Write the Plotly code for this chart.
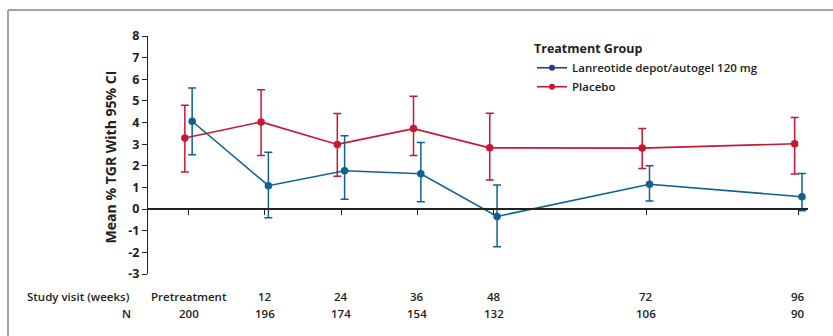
import plotly.graph_objects as go

# Visits (weeks from start; pretreatment plotted at week 0)
weeks = [0, 12, 24, 36, 48, 72, 96]
visit_labels = ["Pretreatment", "12", "24", "36", "48", "72", "96"]
n_patients = [200, 196, 174, 154, 132, 106, 90]

# Lanreotide depot/autogel 120 mg: mean % TGR and 95% CI bounds
lan_mean = [4.06, 1.08, 1.77, 1.63, -0.34, 1.15, 0.57]
lan_upper = [5.60, 2.63, 3.39, 3.08, 1.11, 2.00, 1.65]
lan_lower = [2.51, -0.40, 0.46, 0.34, -1.74, 0.37, -0.08]

# Placebo: mean % TGR and 95% CI bounds
pla_mean = [3.29, 4.03, 2.99, 3.72, 2.83, 2.82, 3.02]
pla_upper = [4.80, 5.52, 4.42, 5.22, 4.43, 3.72, 4.23]
pla_lower = [1.72, 2.48, 1.52, 2.48, 1.34, 1.88, 1.62]

y_ticks = list(range(-3, 9))
y_tick_labels = [str(v) for v in y_ticks]

RED = "#c8172f"
BLUE = "#11618f"
NAVY = "#2b3590"
TEXT = "#222222"
FONT = "Open Sans"

W, H = 833, 336
ML, MR, MT, MB = 148, 25, 36, 62
X_RANGE = [-6.4, 97.5]
Y_RANGE = [-3, 8]
PW, PH = W - ML - MR, H - MT - MB


def px_x(px):
    return (px - ML) / PW


def px_y(py):
    return (H - MB - py) / PH


def series(name, color, mean, upper, lower, dodge):
    return go.Scatter(
        x=[w + dodge for w in weeks],
        y=mean,
        mode="lines+markers",
        name=name,
        showlegend=False,
        line=dict(color=color, width=1.6),
        marker=dict(color=color, size=7.5),
        error_y=dict(
            type="data",
            symmetric=False,
            array=[u - m for u, m in zip(upper, mean)],
            arrayminus=[m - l for m, l in zip(mean, lower)],
            color=color,
            thickness=1.5,
            width=4,
        ),
    )


fig = go.Figure()
fig.add_trace(series("Placebo", RED, pla_mean, pla_upper, pla_lower, -0.6))
fig.add_trace(series("Lanreotide depot/autogel 120 mg", BLUE, lan_mean, lan_upper, lan_lower, 0.55))

# Legend entries
for name, color in [("Lanreotide depot/autogel 120 mg", NAVY), ("Placebo", RED)]:
    fig.add_trace(go.Scatter(
        x=[None], y=[None], mode="lines+markers", name=name,
        line=dict(color=color, width=1.6), marker=dict(color=color, size=6),
    ))

table_font = dict(family=FONT, size=11.5, color=TEXT, weight=600)

annotations = []
# Visit / N table below the plot
annotations.append(dict(text="Study visit (weeks)", xref="paper", yref="paper",
                        x=px_x(132), y=px_y(296), xanchor="right", yanchor="middle",
                        showarrow=False, font=table_font))
annotations.append(dict(text="N", xref="paper", yref="paper",
                        x=px_x(133), y=px_y(313), xanchor="right", yanchor="middle",
                        showarrow=False, font=table_font))
for w, lab, n in zip(weeks, visit_labels, n_patients):
    annotations.append(dict(text=lab, xref="x", yref="paper", x=w, y=px_y(296),
                            xanchor="center", yanchor="middle", showarrow=False,
                            font=table_font))
    annotations.append(dict(text=str(n), xref="x", yref="paper", x=w, y=px_y(313),
                            xanchor="center", yanchor="middle", showarrow=False,
                            font=table_font))

# Y-axis title
annotations.append(dict(text="Mean % TGR With 95% CI", xref="paper", yref="paper",
                        x=px_x(110), y=0.49, xanchor="center", yanchor="middle",
                        textangle=-90, showarrow=False,
                        font=dict(family=FONT, size=14, color=TEXT, weight=700)))

# Frame lines along the top and left edges
shapes = [
    dict(type="line", xref="paper", yref="paper", x0=px_x(8), x1=px_x(840),
         y0=px_y(10), y1=px_y(10), line=dict(color="#a3a3a3", width=2)),
    dict(type="line", xref="paper", yref="paper", x0=px_x(8), x1=px_x(8),
         y0=px_y(10), y1=px_y(340), line=dict(color="#a3a3a3", width=2)),
]

fig.update_layout(
    width=W, height=H,
    margin=dict(l=ML, r=MR, t=MT, b=MB, pad=0),
    paper_bgcolor="white", plot_bgcolor="white",
    font=dict(family=FONT, color=TEXT),
    xaxis=dict(
        range=X_RANGE, anchor="free", position=3 / 11,
        showline=True, linecolor="#222", linewidth=1.5,
        tickvals=weeks, ticks="outside", ticklen=5, tickwidth=1.3, tickcolor="#222",
        showticklabels=False, showgrid=False, zeroline=False,
    ),
    yaxis=dict(
        range=Y_RANGE, tickvals=y_ticks, ticktext=y_tick_labels,
        showline=True, linecolor="#222", linewidth=1.3,
        ticks="outside", ticklen=5, tickwidth=1.3, tickcolor="#222",
        tickfont=dict(family=FONT, size=12.5, color=TEXT, weight=700),
        showgrid=False, zeroline=False,
    ),
    legend=dict(
        title=dict(text="Treatment Group", font=dict(family=FONT, size=12.5, color=TEXT, weight=700)),
        font=dict(family=FONT, size=11.5, color=TEXT, weight=600),
        x=px_x(532), y=px_y(37), xanchor="left", yanchor="top",
        bgcolor="rgba(0,0,0,0)", itemwidth=30, tracegroupgap=0,
    ),
    annotations=annotations,
    shapes=shapes,
)

fig.write_html("out.html")
